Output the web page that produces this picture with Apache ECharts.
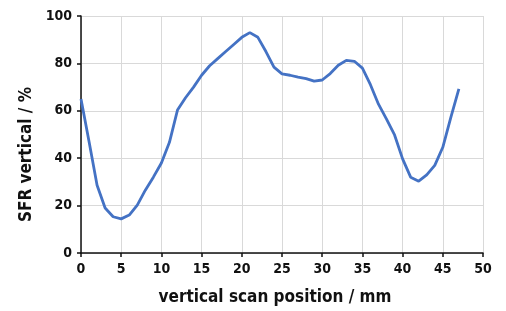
<!DOCTYPE html>
<html>
<head>
<meta charset="utf-8">
<script src="https://cdn.jsdelivr.net/npm/echarts@6/dist/echarts.min.js"></script>
<style>
  html, body { margin: 0; padding: 0; background: #fff; }
  #chart { width: 506px; height: 311px; }
</style>
</head>
<body>
<div id="chart"></div>
<script>
// scan position (mm) and SFR (%)
const positions = [0, 1, 2, 3, 4, 5, 6, 7, 8, 9, 10, 11, 12, 13, 14, 15, 16, 17, 18, 19, 20, 21, 22, 23,
  24, 25, 26, 27, 28, 29, 30, 31, 32, 33, 34, 35, 36, 37, 38, 39, 40, 41, 42, 43, 44, 45, 46, 47];
const sfrValues = [65, 47, 28.6, 19, 15.3, 14.4, 16, 20.2, 26.5, 32, 38, 46.7, 60.3, 65.5, 70, 75, 79, 82, 85, 88, 91, 93, 91, 85,
  78.4, 75.6, 75, 74.2, 73.6, 72.5, 73, 75.7, 79.2, 81.3, 80.9, 78, 71, 62.8, 56.5, 49.8, 39.7, 32, 30.3, 33, 37, 44.6, 57.2, 69.3];

const font = '"DejaVu Sans Condensed", "Liberation Sans Narrow", sans-serif';

const chart = echarts.init(document.getElementById('chart'));

// 组装数据点
const points = positions.map((x, i) => [x, sfrValues[i]]);

chart.setOption({
  animation: false,
  grid: { left: 81, right: 23, top: 16, bottom: 56 },
  xAxis: {
    type: 'value',
    min: 0,
    max: 50,
    interval: 5,
    name: 'vertical scan position / mm',
    nameLocation: 'middle',
    nameGap: 36,
    nameTextStyle: { fontFamily: font, fontWeight: 'bold', fontSize: 17, color: '#111', padding: [0, 14, 0, 0] },
    axisLine: { lineStyle: { color: '#111', width: 1.5 } },
    axisTick: { show: true, length: 4, lineStyle: { color: '#111', width: 1.5 } },
    axisLabel: { fontFamily: font, fontWeight: 'bold', fontSize: 14, color: '#111', margin: 9 },
    splitLine: { show: true, lineStyle: { color: '#d9d9d9', width: 1 } }
  },
  yAxis: {
    type: 'value',
    min: 0,
    max: 100,
    interval: 20,
    name: 'SFR vertical / %',
    nameLocation: 'middle',
    nameGap: 43,
    nameTextStyle: { fontFamily: font, fontWeight: 'bold', fontSize: 17, color: '#111', padding: [0, 40, 0, 0] },
    axisLine: { show: true, lineStyle: { color: '#111', width: 1.5 } },
    axisTick: { show: true, length: 4, lineStyle: { color: '#111', width: 1.5 } },
    axisLabel: { fontFamily: font, fontWeight: 'bold', fontSize: 14, color: '#111', margin: 9 },
    splitLine: { show: true, lineStyle: { color: '#d9d9d9', width: 1 } }
  },
  series: [
    {
      type: 'line',
      data: points,
      symbol: 'none',
      lineStyle: { color: '#4472c4', width: 2.8 }
    }
  ]
});
</script>
</body>
</html>
